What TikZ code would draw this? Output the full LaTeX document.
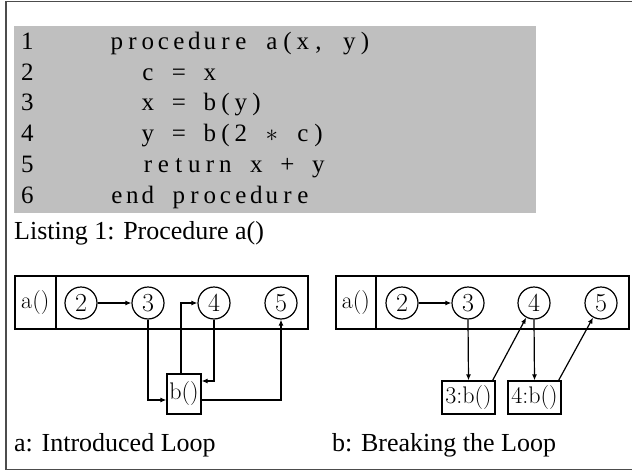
\documentclass[tikz,border=0pt]{standalone}
\usepackage{fontspec}
\newfontfamily\tnr{Liberation Serif}
\usetikzlibrary{arrows.meta,calc}

% fixed-pitch listing: every character sits centred in a column of width \colw
% ('|' stands for a blank column, '*' is printed as \ast)
\newlength\colw
\setlength\colw{15.5pt}
\def\fixchar#1{\hbox to\colw{\hss\ifx#1|\else\ifx#1*$\ast$\else#1\fi\fi\hss}}
\def\fixloop#1{\ifx#1\relax\else\fixchar{#1}\expandafter\fixloop\fi}
\def\fixline#1{\fixloop#1\relax}

\tikzset{
  frameline/.style={draw=black!70, line width=1.5pt},
  codebg/.style={fill=black!25, draw=none},
  codetext/.style={anchor=base west, inner sep=0pt, font=\tnr\fontsize{25}{30}\selectfont},
  captiontext/.style={anchor=base west, inner sep=0pt, font=\tnr\fontsize{26}{31}\selectfont},
  rowbox/.style={draw, line width=1.5pt, anchor=north west, inner sep=0pt,
                 minimum width=293pt, minimum height=53pt},
  proccell/.style={draw, line width=1.5pt, anchor=north west, inner sep=0pt,
                 minimum height=53pt, font=\fontsize{24}{28}\selectfont},
  stmt/.style={circle, draw, line width=1.2pt, minimum size=32pt, inner sep=0pt,
               font=\fontsize{26}{30}\selectfont},
  callbox/.style={draw, line width=1.2pt, inner sep=0pt, font=\fontsize{24}{28}\selectfont},
  flow/.style={line width=1.2pt, -{Latex[length=6pt,width=5pt]}},
}

\begin{document}
\begin{tikzpicture}[x=1pt,y=-1pt]
\useasboundingbox (0,0) rectangle (632,471);

% outer frame
\draw[frameline] (6,1.5) rectangle (640,469.5);

% listing background and lines
\fill[codebg] (14,26) rectangle (536,212.5);
\foreach \n [count=\i from 0] in {1,...,6}
  \node[codetext] (num\n) at (21,49.5+30.7*\i) {\n};
\node[codetext] (code1) at (109,49.5)  {\fixline{procedure|a(x,|y)}};
\node[codetext] (code2) at (140,80.2)  {\fixline{c|=|x}};
\node[codetext] (code3) at (140,110.9) {\fixline{x|=|b(y)}};
\node[codetext] (code4) at (140,141.6) {\fixline{y|=|b(2|*|c)}};
\node[codetext] (code5) at (140,172.3) {\fixline{return|x|+|y}};
\node[codetext] (code6) at (109,203)   {\fixline{end|procedure}};
\node[captiontext] (listcap) at (14,239) {Listing 1: Procedure a()};

% (a) introduced loop
\node[rowbox] (rowA) at (14,275) {};
\node[proccell, minimum width=41pt] (procA) at (14,275) {a()};
\node[stmt] (a2) at (81,303) {2};
\node[stmt] (a3) at (148,303) {3};
\node[stmt] (a4) at (214,303) {4};
\node[stmt] (a5) at (281,303) {5};
\node[callbox, minimum width=34pt, minimum height=40pt] (bA) at (184,394) {b()};
\draw[flow] (a2) -- (a3);
\draw[flow] (a3.south) |- ($(bA.west)+(0,6)$);
\draw[flow] ([xshift=-3pt]bA.north) |- (a4.west);
\draw[flow] (a4.south) |- ($(bA.east)+(0,-13)$);
\draw[flow] ($(bA.east)+(0,6)$) -| (a5.south);
\node[captiontext] (capA) at (14,451) {a: Introduced Loop};

% (b) breaking the loop
\node[rowbox] (rowB) at (335,275) {};
\node[proccell, minimum width=40pt] (procB) at (335,275) {a()};
\node[stmt] (b2) at (402,303) {2};
\node[stmt] (b3) at (468,303) {3};
\node[stmt] (b4) at (534,303) {4};
\node[stmt] (b5) at (601,303) {5};
\node[callbox, minimum width=53pt, minimum height=33pt] (c3) at (468.5,397.5) {3:b()};
\node[callbox, minimum width=53pt, minimum height=33pt] (c4) at (534.5,397.5) {4:b()};
\draw[flow] (b2) -- (b3);
\draw[flow] (b3.south) -- (c3.north);
\draw[flow] ([xshift=-3pt]c3.north east) -- (b4);
\draw[flow] (b4.south) -- (c4.north);
\draw[flow] ([xshift=-3pt]c4.north east) -- (b5);
\node[captiontext] (capB) at (332,451) {b: Breaking the Loop};
\end{tikzpicture}
\end{document}
